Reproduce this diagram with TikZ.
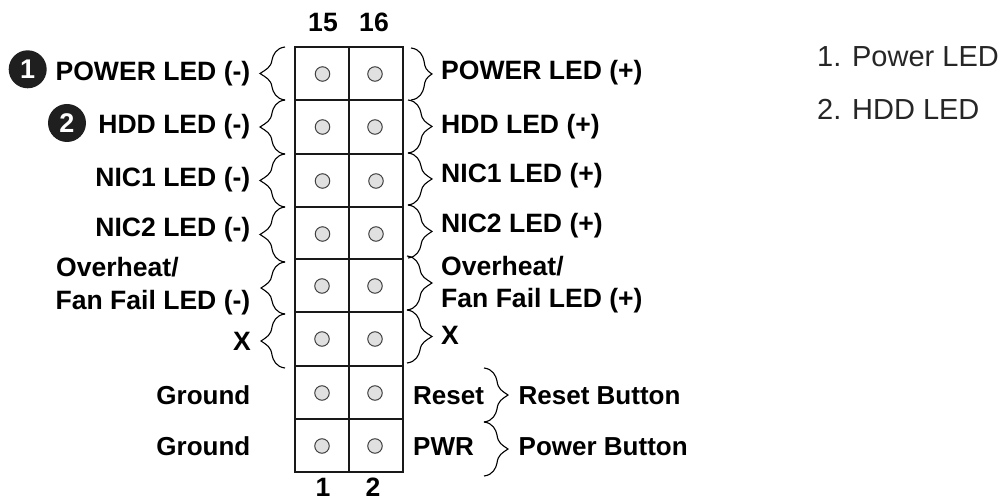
\documentclass[tikz,border=0pt]{standalone}
\usepackage{fontspec}
\setmainfont{Liberation Sans}
\newcommand{\lblfont}{\fontsize{26.55}{30}\selectfont\bfseries}
\newcommand{\btnfont}{\fontsize{26}{30}\selectfont\bfseries}
\newcommand{\lgdfont}{\fontsize{29}{32}\selectfont}
\newcommand{\bracepath}[4]{% endx, tipx, ytop, ybot
  \pgfmathsetmacro{\dirn}{(#2>#1)?1:-1}
  \pgfmathsetmacro{\ymid}{(#3+#4)/2}
  \draw[bracestyle] (#1,#3) .. controls ({#1+\dirn*9},{#3+1}) and ({#1+\dirn*12},{#3+8}) .. ({#1+\dirn*13},{#3+13})
   .. controls ({#1+\dirn*14},{\ymid-6}) and ({#2-\dirn*6},{\ymid-4}) .. (#2,\ymid)
   .. controls ({#2-\dirn*6},{\ymid+4}) and ({#1+\dirn*14},{\ymid+6}) .. ({#1+\dirn*13},{#4-13})
   .. controls ({#1+\dirn*12},{#4-8}) and ({#1+\dirn*9},{#4-1}) .. (#1,#4);}
\tikzset{
  x=1pt,y=-1pt,
  lbl/.style={font=\lblfont,text=black,inner sep=0pt},
  btn/.style={font=\btnfont,text=black,inner sep=0pt,anchor=base west},
  lgd/.style={font=\lgdfont,text=black!85,inner sep=0pt,anchor=base west},
  bracestyle/.style={draw=black,line width=1.1pt},
  pin/.style={circle,draw=black!75,fill=black!12,line width=1pt,minimum size=14.5pt,inner sep=0pt},
  badge/.style={circle,fill=black!88,text=white,minimum size=38pt,inner sep=0pt,font=\fontsize{27}{28}\selectfont\bfseries},
  grid line/.style={draw=black!90,line width=2pt}
}
\begin{document}
\begin{tikzpicture}
\useasboundingbox (0,0) rectangle (1003,502);
% connector grid
\draw[grid line] (295,47) rectangle (402.5,472);
\draw[grid line] (348.5,47) -- (348.5,472);
\foreach \yy in {100.5,154,207,259,312,366,419}
  \draw[grid line] (295,\yy) -- (402.5,\yy);
% pins
\foreach \nm/\xa/\xb/\yy in {a/322.5/375/74,b/322.5/375/127,c/322.5/376/181,d/322.5/376/234,e/322/375/286,f/322/375/339,g/322/375/393,h/322/375/446}{
  \node[pin] (pin\nm1) at (\xa,\yy) {};
  \node[pin] (pin\nm2) at (\xb,\yy) {};
}
% pin numbers
\node[lbl,anchor=base] (n15) at (323,32) {15};
\node[lbl,anchor=base] (n16) at (374,32) {16};
\node[lbl,anchor=base] (n1) at (323,496) {1};
\node[lbl,anchor=base] (n2) at (373,496) {2};
% badges
\node[badge] (b1) at (27.7,69.3) {1};
\node[badge] (b2) at (67,123) {2};
% left labels
\node[lbl,anchor=base east] (l1) at (250.5,80.5) {POWER LED (-)};
\node[lbl,anchor=base east] (l2) at (250.5,133.5) {HDD LED (-)};
\node[lbl,anchor=base east] (l3) at (250.5,187) {NIC1 LED (-)};
\node[lbl,anchor=base east] (l4) at (250.5,237) {NIC2 LED (-)};
\node[lbl,anchor=base west] (l5a) at (56,276.5) {Overheat/};
\node[lbl,anchor=base east] (l5b) at (250.5,309) {Fan Fail LED (-)};
\node[lbl,anchor=base east] (l6) at (251,350) {X};
\node[btn,anchor=base east] (l7) at (250.5,404) {Ground};
\node[btn,anchor=base east] (l8) at (250.5,455) {Ground};
% right labels
\node[lbl,anchor=base west] (r1) at (441,80) {POWER LED (+)};
\node[lbl,anchor=base west] (r2) at (441,134) {HDD LED (+)};
\node[lbl,anchor=base west] (r3) at (441,183) {NIC1 LED (+)};
\node[lbl,anchor=base west] (r4) at (441,233) {NIC2 LED (+)};
\node[lbl,anchor=base west] (r5a) at (441,276) {Overheat/};
\node[lbl,anchor=base west] (r5b) at (441,308) {Fan Fail LED (+)};
\node[lbl,anchor=base west] (r6) at (441,344) {X};
\node[btn] (r7) at (413,404) {Reset};
\node[btn] (r8) at (413,455) {PWR};
\node[btn] (r9) at (518.5,404) {Reset Button};
\node[btn] (r10) at (518.5,455) {Power Button};
% legend
\node[lgd] (k1) at (817,67) {1. Power LED};
\node[lgd] (k2) at (817,119.5) {2. HDD LED};
% braces
\bracepath{285}{260}{47}{100}
\bracepath{285}{260}{100}{154}
\bracepath{285}{260}{154}{207}
\bracepath{285}{260}{207}{262}
\bracepath{285}{261}{262}{314}
\bracepath{285}{261}{314}{368}
\bracepath{411}{432}{48}{100}
\bracepath{408}{432}{100}{153}
\bracepath{408}{432}{153}{205}
\bracepath{408}{432}{205}{258}
\bracepath{407}{432}{256}{310}
\bracepath{407}{432}{310}{363}
\bracepath{484}{508}{368}{422}
\bracepath{484}{508}{422}{476}
\end{tikzpicture}
\end{document}
